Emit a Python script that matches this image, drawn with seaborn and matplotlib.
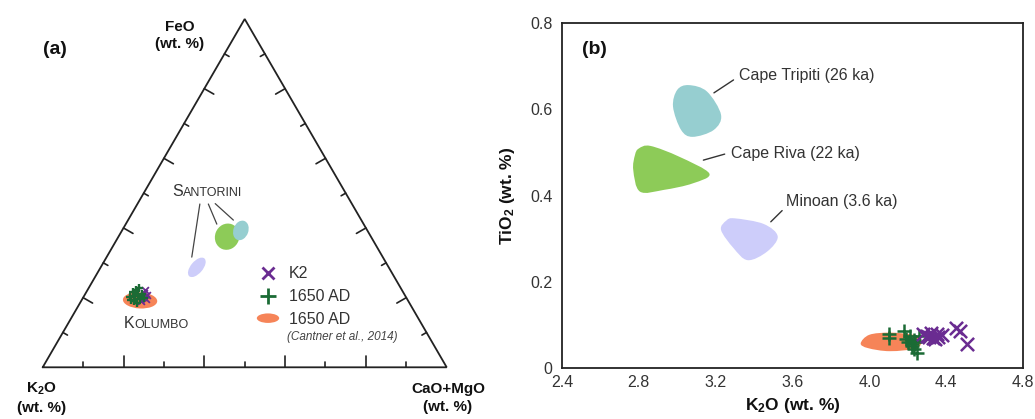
import numpy as np
import pandas as pd
import matplotlib
matplotlib.use("Agg")
import matplotlib.pyplot as plt
import matplotlib.patches as mpatches
import seaborn as sns
from matplotlib.path import Path
from matplotlib.lines import Line2D
from matplotlib.legend_handler import HandlerPatch
from matplotlib.offsetbox import TextArea, HPacker, AnnotationBbox

# -----------------------------
# Panel (b): K2O vs TiO2 glass analyses (wt. %)
# -----------------------------
k2_k2o = [4.28, 4.30, 4.31, 4.32, 4.33, 4.34, 4.35, 4.36, 4.38, 4.45, 4.47, 4.51]
k2_tio2 = [0.080, 0.075, 0.072, 0.082, 0.070, 0.068, 0.078, 0.072, 0.076, 0.092, 0.085, 0.055]

ad_k2o = [4.10, 4.10, 4.18, 4.19, 4.20, 4.21, 4.22, 4.22, 4.23, 4.23, 4.24, 4.25, 4.26]
ad_tio2 = [0.080, 0.070, 0.085, 0.068, 0.060, 0.075, 0.055, 0.050, 0.065, 0.045, 0.060, 0.035, 0.075]

# compositional fields (outline vertices)
tripiti_k2o = [3.06, 3.155, 3.228, 3.19, 3.08, 3.02, 2.978, 3.00]
tripiti_tio2 = [0.656, 0.641, 0.587, 0.552, 0.536, 0.552, 0.606, 0.645]
riva_k2o = [2.80, 2.86, 3.01, 3.167, 3.08, 2.93, 2.806, 2.771, 2.78]
riva_tio2 = [0.509, 0.515, 0.490, 0.451, 0.428, 0.413, 0.409, 0.459, 0.494]
minoan_k2o = [3.30, 3.45, 3.523, 3.468, 3.367, 3.293, 3.228, 3.256]
minoan_tio2 = [0.347, 0.334, 0.305, 0.270, 0.250, 0.278, 0.320, 0.342]
cantner_k2o = [3.955, 4.00, 4.107, 4.229, 4.27, 4.246, 4.107, 3.994]
cantner_tio2 = [0.057, 0.077, 0.082, 0.077, 0.066, 0.046, 0.039, 0.046]

# -----------------------------
# Panel (a): ternary K2O - FeO - (CaO+MgO), normalised %
# -----------------------------
k2_t_k = [63.6, 65.1, 63.8, 66.2, 64.7, 64.3]
k2_t_fe = [22.1, 20.1, 20.7, 19.0, 19.5, 21.2]
k2_t_ca = [14.3, 14.8, 15.5, 14.8, 15.8, 14.5]

ad_t_k = [68.4, 66.9, 65.9, 66.1, 66.2, 67.9, 67.5, 65.0, 68.5, 64.8, 65.0, 67.0]
ad_t_fe = [20.1, 21.5, 22.1, 20.7, 19.5, 19.0, 18.4, 21.0, 19.2, 22.7, 19.8, 20.4]
ad_t_ca = [11.5, 11.6, 12.0, 13.2, 14.3, 13.1, 14.1, 14.0, 12.3, 12.5, 15.2, 12.6]

field_names = ["Kolumbo", "Minoan", "Cape Riva", "Cape Tripiti"]
field_k = [66.3, 47.5, 35.6, 31.3]
field_fe = [19.2, 28.7, 37.5, 39.3]
field_ca = [14.5, 23.8, 26.9, 29.4]

# colours
c_k2 = "#6a2c91"
c_ad = "#1b6b35"
c_cantner = "#f68458"
c_tripiti = "#96ced0"
c_riva = "#8dcb58"
c_minoan = "#cdcdfa"
c_text = "#333333"

sns.set_theme(style="white")
plt.rcParams["font.family"] = ["Liberation Sans", "DejaVu Sans"]
plt.rcParams["mathtext.default"] = "regular"
plt.rcParams["text.color"] = c_text
plt.rcParams["axes.labelcolor"] = c_text


def tern(k, fe, ca):
    k, fe, ca = (np.asarray(v, dtype=float) for v in (k, fe, ca))
    tot = k + fe + ca
    f = fe / tot
    c = ca / tot
    return c + f / 2, f * np.sqrt(3) / 2


def smooth_blob(xs, ys, color, ax):
    pts = np.column_stack([xs, ys])
    n = len(pts)
    verts = [pts[0]]
    codes = [Path.MOVETO]
    for i in range(n):
        p0, p1, p2, p3 = pts[i - 1], pts[i], pts[(i + 1) % n], pts[(i + 2) % n]
        verts += [p1 + (p2 - p0) / 6, p2 - (p3 - p1) / 6, p2]
        codes += [Path.CURVE4] * 3
    patch = mpatches.PathPatch(Path(verts, codes), facecolor=color, edgecolor="none", zorder=1)
    ax.add_patch(patch)


fig = plt.figure(figsize=(10.35, 4.19), dpi=100)

# =============================
# (a) ternary diagram
# =============================
axa = fig.add_axes([42.7 / 1035, 51.7 / 419, 404 / 1035, 348.3 / 419])
axa.set_xlim(0, 1)
axa.set_ylim(0, np.sqrt(3) / 2)
axa.axis("off")

h = np.sqrt(3) / 2
axa.plot([0, 1, 0.5, 0], [0, 0, h, 0], color="#222222", lw=1.3, solid_joinstyle="miter", clip_on=False)
for i in range(1, 10):
    t = i / 10
    ln = 0.027 if i % 2 == 0 else 0.013
    edges = [((t, 0), (0, 1)),
             ((0.5 * t, h * t), (h, -0.5)),
             ((1 - 0.5 * t, h * t), (-h, -0.5))]
    for (px, py), (nx, ny) in edges:
        axa.plot([px, px + nx * ln], [py, py + ny * ln], color="#222222", lw=1.2)

# fields
fx, fy = tern(field_k, field_fe, field_ca)
field_style = {
    "Kolumbo": (c_cantner, 0.085, 0.040, -3),
    "Minoan": (c_minoan, 0.058, 0.030, 50),
    "Cape Riva": (c_riva, 0.060, 0.066, -20),
    "Cape Tripiti": (c_tripiti, 0.037, 0.050, -20),
}
for name, x, y in zip(field_names, fx, fy):
    col, w, hh, ang = field_style[name]
    axa.add_patch(mpatches.Ellipse((x, y), w, hh, angle=ang, facecolor=col, edgecolor="none", zorder=1))

ad_x, ad_y = tern(ad_t_k, ad_t_fe, ad_t_ca)
k2_x, k2_y = tern(k2_t_k, k2_t_fe, k2_t_ca)
sns.scatterplot(x=k2_x, y=k2_y, marker="x", color=c_k2, s=24, linewidth=1.3, ax=axa, zorder=3)
sns.scatterplot(x=ad_x, y=ad_y, marker="+", color=c_ad, s=34, linewidth=1.7, ax=axa, zorder=4)

# vertex labels
lab_kw = dict(ha="center", va="center", fontsize=11, fontweight="bold", linespacing=1.35, color="#111111")
axa.text(0.340, 0.825, "FeO\n(wt. %)", **lab_kw)
axa.text(-0.004, -0.076, "K$_2$O\n(wt. %)", clip_on=False, **lab_kw)
axa.text(1.003, -0.076, "CaO+MgO\n(wt. %)", clip_on=False, **lab_kw)


def small_caps(first, rest):
    return HPacker(children=[TextArea(first, textprops=dict(size=11.5, color=c_text)),
                             TextArea(rest, textprops=dict(size=9, color=c_text))],
                   align="baseline", pad=0, sep=0)


axa.add_artist(AnnotationBbox(small_caps("S", "ANTORINI"), (0.320, 0.436), xycoords="data",
                              box_alignment=(0, 0.5), frameon=False, pad=0))
axa.add_artist(AnnotationBbox(small_caps("K", "OLUMBO"), (0.201, 0.110), xycoords="data",
                              box_alignment=(0, 0.5), frameon=False, pad=0))
for (x0, y0), (x1, y1) in [((0.389, 0.406), (0.369, 0.274)),
                           ((0.410, 0.406), (0.431, 0.356)),
                           ((0.427, 0.407), (0.472, 0.366))]:
    axa.plot([x0, x1], [y0, y1], color="#444444", lw=0.9)


def make_ellipse(legend, orig_handle, xdescent, ydescent, width, height, fontsize):
    return mpatches.Ellipse((width / 2 - xdescent, height / 2 - ydescent), width, height * 0.85)


cantner_handle = mpatches.Patch(facecolor=c_cantner, edgecolor="none", label="1650 AD")
handles = [Line2D([], [], ls="none", marker="x", color=c_k2, ms=9, mew=2, label="K2"),
           Line2D([], [], ls="none", marker="+", color=c_ad, ms=11, mew=2, label="1650 AD"),
           cantner_handle]
axa.legend(handles=handles, loc="center left", bbox_to_anchor=(0.530, 0.203), frameon=False,
           fontsize=11.5, borderpad=0, borderaxespad=0, handlelength=1.4, handletextpad=0.6,
           labelspacing=0.48, handler_map={cantner_handle: HandlerPatch(patch_func=make_ellipse)})
axa.text(0.604, 0.088, "(Cantner et al., 2014)", transform=axa.transAxes, fontsize=8.5,
         fontstyle="italic", color="#444444", ha="left", va="center")

fig.text(43 / 1035, 1 - 50 / 419, "(a)", fontsize=14, fontweight="bold", color="#111111", va="center")

# =============================
# (b) K2O vs TiO2
# =============================
axb = fig.add_axes([562 / 1035, 51 / 419, 461 / 1035, 345 / 419])
smooth_blob(tripiti_k2o, tripiti_tio2, c_tripiti, axb)
smooth_blob(riva_k2o, riva_tio2, c_riva, axb)
smooth_blob(minoan_k2o, minoan_tio2, c_minoan, axb)
smooth_blob(cantner_k2o, cantner_tio2, c_cantner, axb)

sns.scatterplot(x=ad_k2o, y=ad_tio2, marker="+", color=c_ad, s=100, linewidth=1.8, ax=axb, zorder=3)
sns.scatterplot(x=k2_k2o, y=k2_tio2, marker="x", color=c_k2, s=90, linewidth=1.8, ax=axb, zorder=3)

axb.set_xlim(2.4, 4.8)
axb.set_ylim(0, 0.8)
xt = np.round(np.arange(2.4, 4.81, 0.4), 1)
axb.set_xticks(xt)
axb.set_xticklabels([f"{v:.1f}" for v in xt])
axb.set_yticks([0, 0.2, 0.4, 0.6, 0.8])
axb.set_yticklabels(["0", "0.2", "0.4", "0.6", "0.8"])
axb.tick_params(direction="in", length=6.5, width=1.2, color="#222222", labelsize=11.5, labelcolor=c_text)
axb.tick_params(axis="x", pad=5)
axb.tick_params(axis="y", pad=7)
for sp in axb.spines.values():
    sp.set_color("#222222")
    sp.set_linewidth(1.3)
axb.set_xlabel("K$_2$O (wt. %)", fontsize=12.5, fontweight="bold", labelpad=4, color="#111111")
axb.set_ylabel("TiO$_2$ (wt. %)", fontsize=12.5, fontweight="bold", labelpad=9, color="#111111")

notes = [("Cape Tripiti (26 ka)", (3.321, 0.679), (3.191, 0.638), (3.293, 0.668)),
         ("Cape Riva (22 ka)", (3.280, 0.498), (3.136, 0.482), (3.247, 0.496)),
         ("Minoan (3.6 ka)", (3.564, 0.386), (3.487, 0.339), (3.546, 0.365))]
for label, (tx, ty), (x0, y0), (x1, y1) in notes:
    axb.plot([x0, x1], [y0, y1], color="#333333", lw=1.0)
    axb.text(tx, ty, label, fontsize=11.5, ha="left", va="center", color=c_text)

axb.text(0.043, 0.924, "(b)", transform=axb.transAxes, fontsize=14, fontweight="bold",
         color="#111111", ha="left", va="center")

fig.savefig("out.png", dpi=100)
plt.close(fig)
